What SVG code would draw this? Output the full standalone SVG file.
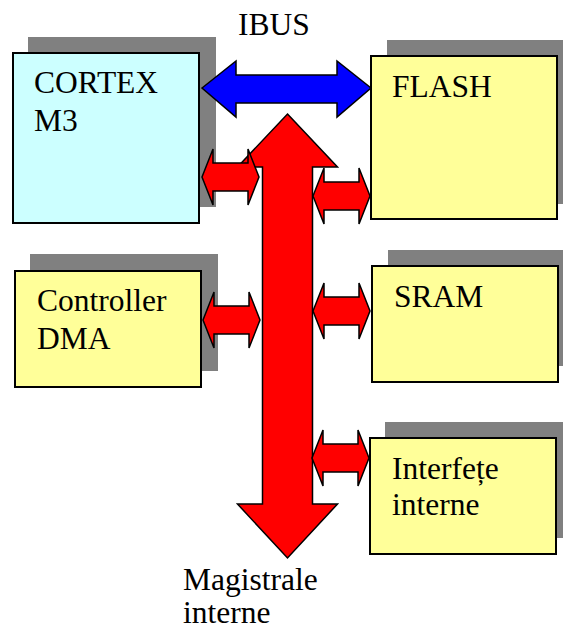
<svg xmlns="http://www.w3.org/2000/svg" xmlns:xlink="http://www.w3.org/1999/xlink" width="563" height="630" viewBox="0 0 563 630">
<style>
.shadow{fill:#808080;stroke:none}
.box{stroke:#000;stroke-width:2}
.cyan{fill:#CCFFFF}
.yellow{fill:#FFFF99}
.lbl{font-family:'Liberation Serif','DejaVu Serif',serif;font-size:31.5px;fill:#000}
.red{fill:#FF0000;stroke:#000;stroke-width:1.5;stroke-linejoin:miter}
.blue{fill:#0000FF;stroke:#000;stroke-width:1.5}
</style>
<defs>
<path id="dbl" d="M0,0 L11,-28 L11,-14 L46,-14 L46,-28 L57,0 L46,28 L46,14 L11,14 L11,28 Z"/>
</defs>
<rect width="563" height="630" fill="#fff"/>
<g id="shadows">
<rect class="shadow" x="28" y="37" width="188" height="170"/>
<rect class="shadow" x="387" y="40" width="176" height="164"/>
<rect class="shadow" x="30" y="254" width="188" height="117"/>
<rect class="shadow" x="388" y="250" width="175" height="116"/>
<rect class="shadow" x="385" y="422" width="178" height="116"/>
</g>
<g id="connectors">
<polygon class="blue" points="202,88 236,61 236,75 337,75 337,61 371,88 337,117 337,103 236,103 236,117"/>
<polygon class="red" points="287.5,114 337.5,167 312.5,167 312.5,504 337.5,504 287.5,558 237.5,504 262.5,504 262.5,167 237.5,167"/>
<use xlink:href="#dbl" class="red" x="202" y="177"/>
<use xlink:href="#dbl" class="red" x="313" y="196"/>
<use xlink:href="#dbl" class="red" x="203" y="320"/>
<use xlink:href="#dbl" class="red" x="313" y="311"/>
<use xlink:href="#dbl" class="red" x="312" y="458"/>
</g>
<g id="cortex">
<rect class="box cyan" x="13" y="53" width="186" height="170"/>
<text class="lbl" x="34" y="93">CORTEX</text>
<text class="lbl" x="34" y="131">M3</text>
</g>
<g id="flash">
<rect class="box yellow" x="371" y="56" width="186" height="163"/>
<text class="lbl" x="392" y="97">FLASH</text>
</g>
<g id="dma">
<rect class="box yellow" x="15" y="271" width="186" height="116"/>
<text class="lbl" x="37" y="311">Controller</text>
<text class="lbl" x="37" y="349">DMA</text>
</g>
<g id="sram">
<rect class="box yellow" x="372" y="266" width="186" height="116"/>
<text class="lbl" x="394" y="307">SRAM</text>
</g>
<g id="interfete">
<rect class="box yellow" x="370" y="438" width="186" height="116"/>
<text class="lbl" x="392" y="479">Interfețe</text>
<text class="lbl" x="392" y="515">interne</text>
</g>
<g id="labels">
<text class="lbl" x="238" y="35">IBUS</text>
<text class="lbl" x="183" y="590">Magistrale</text>
<text class="lbl" x="183" y="623">interne</text>
</g>
</svg>
